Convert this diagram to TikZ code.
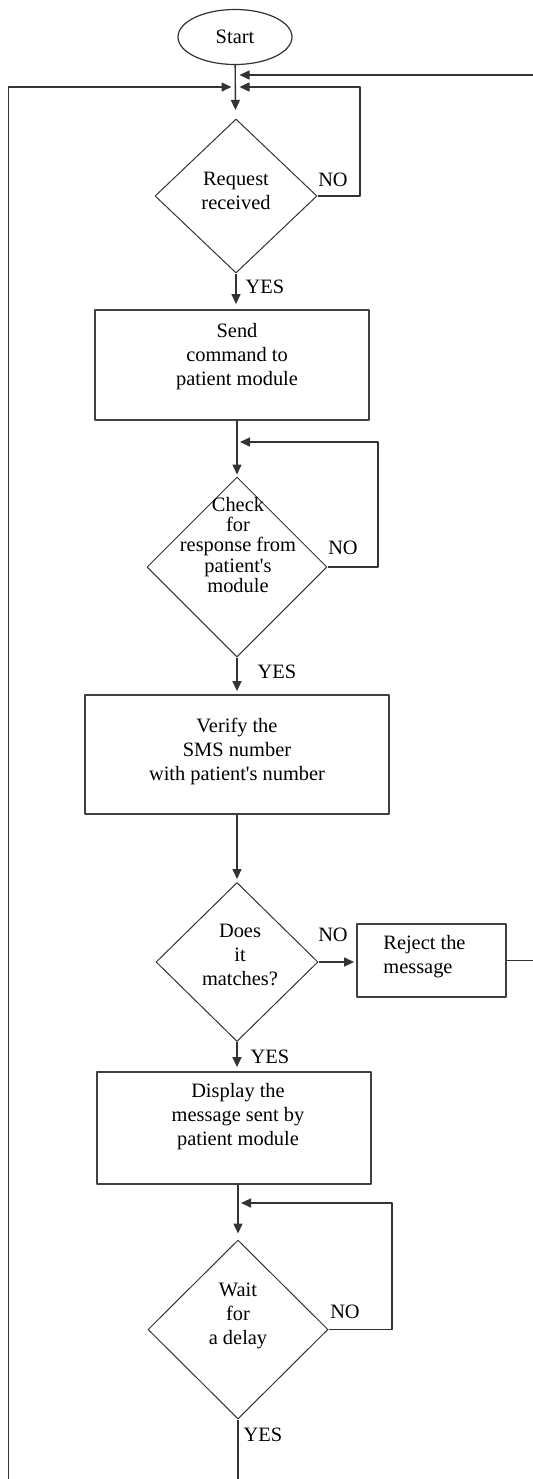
\documentclass[tikz,border=0pt]{standalone}
\usepackage{fontspec}
\setmainfont{Liberation Serif}[Ligatures=TeXOff]
\usetikzlibrary{shapes.geometric,arrows.meta}

\begin{document}
\begin{tikzpicture}[x=0.5pt, y=-0.5pt, font=\fontsize{10.2}{12}\selectfont, line join=round,
    >={Triangle[length=5pt,width=4.5pt]},
    flow/.style={draw=black!80, line width=0.7pt},
    box/.style={draw=black!75, line width=0.9pt, inner sep=0pt},
    dec/.style={diamond, draw=black!80, line width=0.5pt, inner sep=0pt},
    txt/.style={align=center, inner sep=0pt}]
    \useasboundingbox (0,0) rectangle (533,1479);
    %\draw[help lines, step=20] (0,0) grid (533,1479);
    \node[ellipse, draw=black!80, line width=0.6pt, minimum width=57pt, minimum height=27.5pt, inner sep=0pt] (start) at (235,37) {Start};
    \node[dec, minimum width=81pt, minimum height=77pt] (d1) at (236,196) {};
    \node[txt] (d1t) at (236,191) {Request\\received};
    \node[box, minimum width=137pt, minimum height=55pt] (b1) at (232,365) {};
    \node[txt] (b1t) at (237,357) {Send\\command to\\patient module};
    \node[dec, minimum width=90pt, minimum height=90pt] (d2) at (237,567) {};
    \node[txt, font=\fontsize{10.2}{10.2}\selectfont] (d2t) at (238,545) {Check\\for\\response from\\patient's\\module};
    \node[box, minimum width=152pt, minimum height=59.5pt] (b2) at (237,754.5) {};
    \node[txt] (b2t) at (237,751) {Verify the\\SMS number\\with patient's number};
    \node[dec, minimum width=81pt, minimum height=79.5pt] (d3) at (237,962) {};
    \node[txt] (d3t) at (240,955) {Does\\it\\matches?};
    \node[box, minimum width=74.5pt, minimum height=36.5pt] (b3) at (431.5,960.5) {};
    \node[txt, align=left, anchor=west] (b3t) at (383,957) {Reject the\\message};
    \node[box, minimum width=137pt, minimum height=56pt] (b4) at (234,1128) {};
    \node[txt] (b4t) at (238,1117) {Display the\\message sent by\\patient module};
    \node[dec, minimum width=90pt, minimum height=89.5pt] (d4) at (238,1329.5) {};
    \node[txt] (d4t) at (238,1316) {Wait\\for\\a delay};
    \foreach \n/\x/\y/\t in {no1/333/180/NO, yes1/265/287/YES, no2/343/548/NO, yes2/277/672/YES,
        no3/333/935/NO, yes3/270/1057/YES, no4/345/1312/NO, yes4/263/1435/YES}{
        \node[inner sep=0pt] (\n) at (\x,\y) {\t};}
    % joins on the main line
    \coordinate (top0) at (235.5,75);
    \coordinate (top1) at (235.5,87);
    \coordinate (j2) at (237,442);
    \coordinate (j4) at (238,1203);
    \coordinate (rgt) at (545,75);
    \coordinate (lft) at (8.5,1500);
    \draw[flow, ->, shorten >=4.5pt] (start) -- (d1);
    \draw[flow, ->] (d1.east) -| (360,87) -- ([xshift=2pt]top1);
    \draw[flow, ->, shorten >=2.5pt] (d1.south) -- (d1.south |- b1.north);
    \draw[flow, ->, shorten >=1pt] (b1.south -| d2.north) -- (d2.north);
    \draw[flow, ->] (d2.east) -| (378,442) -- ([xshift=1.5pt]j2);
    \draw[flow, ->, shorten >=1.5pt] (d2.south) -- (d2.south |- b2.north);
    \draw[flow, ->, shorten >=1.5pt] (b2.south -| d3.north) -- (d3.north);
    \draw[flow, ->, shorten >=1pt] (d3.east) -- (d3.east -| b3.west);
    \draw[flow, ->, shorten >=2pt] (d3.south) -- (d3.south |- b4.north);
    \draw[flow, ->, shorten >=3pt] (b4.south -| d4.north) -- (d4.north);
    \draw[flow, ->] (d4.east) -| (392,1203) -- ([xshift=1.5pt]j4);
    \draw[flow, ->] (b3.east) -| (rgt) -- ([xshift=2pt]top0);
    \draw[flow, ->] (d4.south) |- (lft) |- ([xshift=-2pt]top1);
\end{tikzpicture}
\end{document}
